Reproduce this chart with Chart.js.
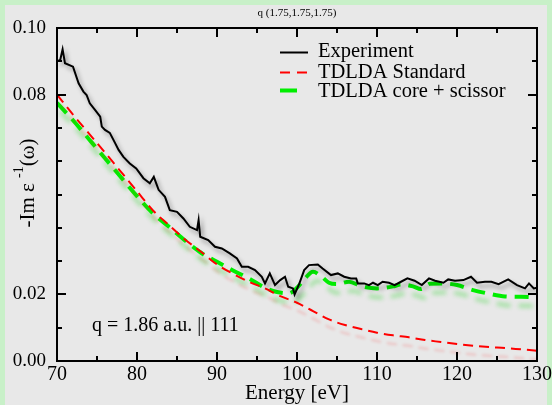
<!DOCTYPE html>
<html>
<head>
<meta charset="utf-8">
<script src="https://cdn.jsdelivr.net/npm/chart.js@4.4.1/dist/chart.umd.min.js"></script>
<style>
  html, body { margin: 0; padding: 0; background: #c8f0c8; }
  #wrap { width: 552px; height: 405px; position: relative; }
</style>
</head>
<body>
<div id="wrap"><canvas id="c" width="552" height="405"></canvas></div>
<script>
// ---- data ----
const expEnergy = [70.0,70.4,70.7,71.0,72.0,72.7,73.3,73.7,74.1,74.75,75.4,75.6,76.0,76.6,77.25,77.7,78.3,79.1,79.9,80.8,81.6,82.1,82.7,83.5,84.1,85.0,85.8,86.6,87.5,87.7,87.9,88.9,89.75,90.6,91.6,92.5,93.1,93.9,94.75,95.6,96.0,96.6,97.25,97.9,98.5,98.9,99.5,99.7,100.3,100.9,101.5,102.6,103.2,104.25,105.1,105.9,106.75,107.4,107.6,108.4,109.0,109.5,110.1,110.7,111.5,112.2,113.0,113.8,114.7,115.6,116.5,117.25,118.3,118.9,119.75,120.8,121.75,122.5,123.5,124.3,125.2,126.4,127.5,128.5,129.0,129.6,130.0];
const expValue = [0.0900,0.0904,0.0936,0.0894,0.0884,0.0834,0.0809,0.0799,0.0774,0.0754,0.0734,0.0704,0.0694,0.0685,0.0655,0.0634,0.0613,0.0593,0.0578,0.0549,0.0534,0.0553,0.0514,0.0493,0.0453,0.0448,0.0428,0.0403,0.0393,0.0423,0.0373,0.0363,0.0343,0.0338,0.0323,0.0308,0.0283,0.0283,0.0273,0.0253,0.0233,0.0263,0.0228,0.0243,0.0253,0.0223,0.0218,0.0200,0.0233,0.0273,0.0288,0.0290,0.0278,0.0258,0.0263,0.0253,0.0248,0.0248,0.0233,0.0233,0.0228,0.0235,0.0228,0.0238,0.0235,0.0228,0.0238,0.0248,0.0241,0.0228,0.0248,0.0241,0.0235,0.0245,0.0241,0.0243,0.0253,0.0235,0.0238,0.0238,0.0231,0.0245,0.0228,0.0218,0.0233,0.0218,0.0220];

const stdEnergy = [70,72,74,76,78,80,82,84,86,88,90,92,94,96,98,100,102,104,106,108,110,112,114,116,118,120,122,124,126,128,130];
const stdValue = [0.0800,0.0740,0.0683,0.0626,0.0568,0.0510,0.0452,0.0408,0.0365,0.0328,0.0290,0.0262,0.0238,0.0218,0.0194,0.0175,0.0150,0.0125,0.0108,0.0096,0.0085,0.0077,0.0071,0.0063,0.0057,0.0051,0.0046,0.0042,0.0039,0.0035,0.0031];

const coreEnergy = [70,72,74,76,78,80,82,84,86,88,90,92,94,96,97.5,99,100,101,102,103,104,105,106.5,108,110,112,113,114.5,115.5,116.6,118.3,120,122,124,126,128,130];
const coreValue = [0.0775,0.0723,0.0666,0.0609,0.0552,0.0495,0.0443,0.0403,0.0362,0.0325,0.0298,0.0272,0.0248,0.0220,0.0207,0.0203,0.0220,0.0248,0.0268,0.0255,0.0235,0.0231,0.0238,0.0225,0.0218,0.0224,0.0230,0.0224,0.0216,0.0232,0.0233,0.0228,0.0213,0.0202,0.0194,0.0193,0.0191];

const seriesNames = ['Experiment', 'TDLDA Standard', 'TDLDA core + scissor'];
const yLabelValues = [0.00, 0.02, 0.08, 0.10];
const xLabelValues = [70, 80, 90, 100, 110, 120, 130];
const chartTitle = 'q (1.75,1.75,1.75)';
const annotation = 'q = 1.86 a.u. || 111';

const pts = (xs, ys) => xs.map((x, i) => ({ x: x, y: ys[i] }));
const SERIF = '"Liberation Serif", "DejaVu Serif", serif';

const shadows = [
  { color: 'rgba(0,0,0,0.35)', blur: 4, ox: 3, oy: 4 },
  { color: 'rgba(255,0,0,0.18)', blur: 3, ox: 3, oy: 9 },
  { color: 'rgba(0,210,0,0.30)', blur: 4, ox: 4, oy: 9 }
];

const decor = {
  id: 'decor',
  beforeDraw(chart) {
    const ctx = chart.ctx;
    ctx.save();
    ctx.fillStyle = '#c8f0c8';
    ctx.fillRect(0, 0, 552, 405);
    ctx.fillStyle = '#e8e8e8';
    ctx.fillRect(5, 5, 542, 400);
    ctx.restore();
  },
  beforeDatasetDraw(chart, args) {
    const s = shadows[args.index];
    const ctx = chart.ctx;
    ctx.save();
    ctx.shadowColor = s.color;
    ctx.shadowBlur = s.blur;
    ctx.shadowOffsetX = s.ox;
    ctx.shadowOffsetY = s.oy;
  },
  afterDatasetDraw(chart) {
    chart.ctx.restore();
  },
  afterDraw(chart) {
    const ctx = chart.ctx;
    const a = chart.chartArea;
    const xs = chart.scales.x, ys = chart.scales.y;
    ctx.save();
    // frame
    ctx.strokeStyle = '#000';
    ctx.lineWidth = 2;
    ctx.strokeRect(a.left, a.top, a.right - a.left, a.bottom - a.top);
    // x ticks (inward, bottom & top)
    xs.ticks.forEach(t => {
      const px = Math.round(xs.getPixelForValue(t.value));
      const major = xLabelValues.includes(t.value);
      const len = major ? 9 : 5;
      ctx.beginPath();
      ctx.moveTo(px, a.bottom); ctx.lineTo(px, a.bottom - len);
      ctx.moveTo(px, a.top); ctx.lineTo(px, a.top + len);
      ctx.stroke();
    });
    ys.ticks.forEach(t => {
      const py = Math.round(ys.getPixelForValue(t.value));
      const major = yLabelValues.some(v => Math.abs(v - t.value) < 1e-6);
      const len = major ? 9 : 5;
      ctx.beginPath();
      ctx.moveTo(a.left, py); ctx.lineTo(a.left + len, py);
      ctx.moveTo(a.right, py); ctx.lineTo(a.right - len, py);
      ctx.stroke();
    });
    // title
    ctx.fillStyle = '#000';
    ctx.font = '11px ' + SERIF;
    ctx.textAlign = 'center';
    ctx.textBaseline = 'alphabetic';
    ctx.fillText(chartTitle, (a.left + a.right) / 2, 16);
    // x axis title
    ctx.font = '21px ' + SERIF;
    ctx.fillText('Energy [eV]', (a.left + a.right) / 2, 399);
    // y axis title with superscript
    ctx.save();
    ctx.translate(34, 183);
    ctx.rotate(-Math.PI / 2);
    const big = '21px ' + SERIF, small = '14px ' + SERIF;
    ctx.font = big; const w1 = ctx.measureText('-Im \u03b5 ').width;
    ctx.font = small; const w2 = ctx.measureText('-1').width;
    ctx.font = big; const w3 = ctx.measureText('(\u03c9)').width;
    let x0 = -(w1 + w2 + w3) / 2;
    ctx.textAlign = 'left';
    ctx.font = big; ctx.fillText('-Im \u03b5 ', x0, 0);
    ctx.font = small; ctx.fillText('-1', x0 + w1, -11);
    ctx.font = big; ctx.fillText('(\u03c9)', x0 + w1 + w2, 0);
    ctx.restore();
    // annotation
    ctx.font = '20px ' + SERIF;
    ctx.textAlign = 'left';
    ctx.fillText(annotation, 92, 331);
    // legend
    const rows = [
      { ty: 57, draw: () => { ctx.strokeStyle = '#000'; ctx.lineWidth = 2; ctx.setLineDash([]); ctx.beginPath(); ctx.moveTo(280, 52.5); ctx.lineTo(308, 52.5); ctx.stroke(); } },
      { ty: 78, draw: () => { ctx.strokeStyle = '#ff0000'; ctx.lineWidth = 2; ctx.setLineDash([10, 7]); ctx.beginPath(); ctx.moveTo(280, 72.5); ctx.lineTo(308, 72.5); ctx.stroke(); } },
      { ty: 96.5, draw: () => { ctx.strokeStyle = '#00ee00'; ctx.lineWidth = 4; ctx.setLineDash([]); ctx.beginPath(); ctx.moveTo(280, 90.5); ctx.lineTo(297, 90.5); ctx.stroke(); } }
    ];
    rows.forEach((r, i) => {
      r.draw();
      ctx.setLineDash([]);
      ctx.fillStyle = '#000';
      ctx.font = '20.5px ' + SERIF;
      ctx.textAlign = 'left';
      ctx.fillText(seriesNames[i], 318, r.ty);
    });
    ctx.restore();
  }
};

new Chart(document.getElementById('c'), {
  type: 'line',
  data: {
    datasets: [
      { label: seriesNames[0], data: pts(expEnergy, expValue), borderColor: '#000000', borderWidth: 2, pointRadius: 0, tension: 0, fill: false },
      { label: seriesNames[1], data: pts(stdEnergy, stdValue), borderColor: '#ff0000', borderWidth: 2, borderDash: [10, 6], pointRadius: 0, cubicInterpolationMode: 'monotone', fill: false },
      { label: seriesNames[2], data: pts(coreEnergy, coreValue), borderColor: '#00ee00', borderWidth: 4, borderDash: [14, 8], pointRadius: 0, cubicInterpolationMode: 'monotone', fill: false }
    ]
  },
  options: {
    responsive: false,
    animation: false,
    layout: { padding: { top: 28, right: 15, left: 0, bottom: 0 } },
    plugins: { legend: { display: false }, title: { display: false }, tooltip: { enabled: false } },
    scales: {
      x: {
        type: 'linear', min: 70, max: 130,
        grid: { display: false }, border: { display: false },
        ticks: {
          stepSize: 5, autoSkip: false, maxRotation: 0, padding: -6,
          color: '#000', font: { family: SERIF, size: 20 },
          callback: v => xLabelValues.includes(v) ? String(v) : ''
        },
        afterFit: s => { s.height = 44; }
      },
      y: {
        type: 'linear', min: 0, max: 0.10,
        grid: { display: false }, border: { display: false },
        ticks: {
          stepSize: 0.01, autoSkip: false, padding: 3,
          color: '#000', font: { family: SERIF, size: 19 },
          callback: v => yLabelValues.some(t => Math.abs(t - v) < 1e-6) ? v.toFixed(2) : ''
        },
        afterFit: s => { s.width = 57; }
      }
    }
  },
  plugins: [decor]
});
</script>
</body>
</html>
